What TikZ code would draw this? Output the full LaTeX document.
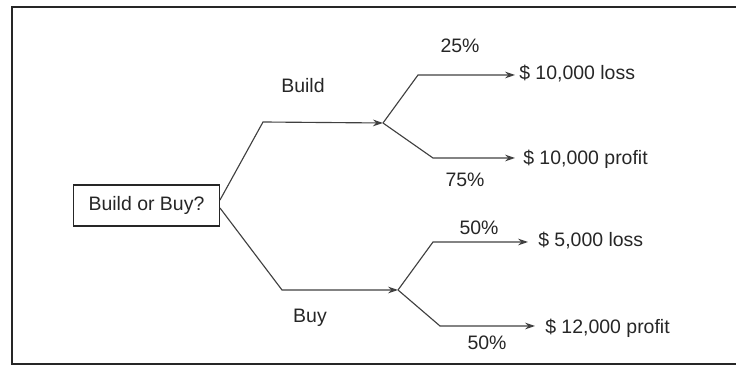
\documentclass[tikz,border=0pt]{standalone}
\usepackage{fontspec}
\setmainfont{Liberation Sans}
\usetikzlibrary{arrows.meta}
\begin{document}
\begin{tikzpicture}[x=0.75pt,y=-0.75pt,
  frame/.style={line width=1.1pt,draw=black!85},
  branch/.style={line width=0.85pt,draw=black!75},
  arr/.style={branch,-{Stealth[length=7.5pt,width=5pt]}},
  lbl/.style={font=\fontsize{14.6}{16}\selectfont,inner sep=0pt,anchor=base west,text=black!85},
  clbl/.style={font=\fontsize{14.6}{16}\selectfont,inner sep=0pt,anchor=base,text=black!85},
  question/.style={draw=black!85,line width=0.9pt,minimum width=110pt,minimum height=30.75pt,inner sep=0pt,
    font=\fontsize{14.6}{16}\selectfont,text=black!85}]
\useasboundingbox (0,0) rectangle (736,366);
% frame
\draw[frame] (736,7) -- (12,7) -- (12,364) -- (736,364);
% question box
\node[question] (q) at (146.5,205.5) {Build or Buy?\hspace{4pt}};
% coordinates
\coordinate (qa) at (220,200);
\coordinate (qb) at (220,208);
\coordinate (k1) at (263,122);
\coordinate (d1) at (383,123);
\coordinate (k2) at (282,290);
\coordinate (d2) at (398,290);
\coordinate (u1) at (418,75);
\coordinate (e1) at (515,75);
\coordinate (u2) at (433,158);
\coordinate (e2) at (515,158);
\coordinate (u3) at (433,242);
\coordinate (e3) at (528,242);
\coordinate (u4) at (440,326);
\coordinate (e4) at (535,326);
% connectors
\draw[arr] (qa) -- (k1) -- (d1);
\draw[arr] (qb) -- (k2) -- (d2);
\draw[arr] (d1) -- (u1) -- (e1);
\draw[arr] (d1) -- (u2) -- (e2);
\draw[arr] (d2) -- (u3) -- (e3);
\draw[arr] (d2) -- (u4) -- (e4);
% labels
\node[clbl] (build) at (303,93) {Build};
\node[clbl] (buy) at (310,323) {Buy};
\node[clbl] (p25) at (460,53) {25\%};
\node[clbl] (p75) at (465,187) {75\%};
\node[clbl] (p50a) at (479,235) {50\%};
\node[clbl] (p50b) at (487,350) {50\%};
\node[lbl] (o1) at (519,80) {\$ 10,000 loss};
\node[lbl] (o2) at (523,165) {\$ 10,000 profit};
\node[lbl] (o3) at (538,247) {\$ 5,000 loss};
\node[lbl] (o4) at (545,334) {\$ 12,000 profit};
\end{tikzpicture}
\end{document}
